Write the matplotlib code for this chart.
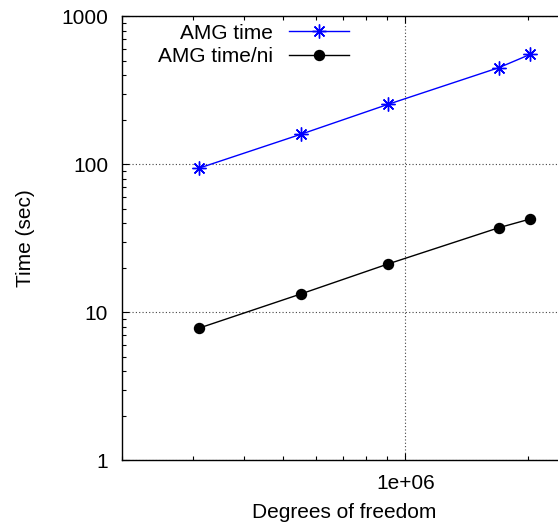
import matplotlib
matplotlib.use("Agg")
import matplotlib.pyplot as plt
from matplotlib.ticker import LogLocator, FuncFormatter, NullFormatter

dof = [3.09e5, 5.52e5, 9.05e5, 1.70e6, 2.03e6]
amg_time = [94, 159.5, 254, 450, 553]
amg_time_ni = [7.8, 13.3, 21.2, 37.3, 42.7]
series_labels = ["AMG time", "AMG time/ni"]
x_label = "Degrees of freedom"
y_label = "Time (sec)"

plt.rcParams['font.family'] = ['Liberation Sans', 'DejaVu Sans']

W, H = 558, 529
fig = plt.figure(figsize=(W / 100, H / 100), dpi=100)
left_px, right_px, top_px, bot_px = 122, 599, 16.3, 460.3
ax = fig.add_axes([left_px / W, 1 - bot_px / H, (right_px - left_px) / W, (bot_px - top_px) / H])

ax.plot(dof, amg_time, color='#0000ff', lw=1.0, marker=(8, 2, 0), markersize=10,
        markeredgewidth=1.0, label=series_labels[0])
ax.plot(dof, amg_time_ni, color='black', lw=1.0, marker='o', markersize=7.2,
        label=series_labels[1])

ax.set_xscale('log')
ax.set_yscale('log')
ax.set_xlim(2e5, 3e6)
ax.set_ylim(1, 1000)

ax.xaxis.set_major_locator(LogLocator(base=10))
ax.xaxis.set_minor_locator(LogLocator(base=10, subs=range(2, 10)))
ax.xaxis.set_major_formatter(FuncFormatter(lambda v, p: "%.0e" % v if v > 0 else ""))
ax.xaxis.set_minor_formatter(NullFormatter())
ax.yaxis.set_major_locator(LogLocator(base=10))
ax.yaxis.set_minor_locator(LogLocator(base=10, subs=range(2, 10)))
ax.yaxis.set_major_formatter(FuncFormatter(lambda v, p: "%g" % v))
ax.yaxis.set_minor_formatter(NullFormatter())

ax.tick_params(which='both', direction='in', top=True, right=True, labelsize=15, width=0.8)
ax.tick_params(which='major', length=5)
ax.tick_params(which='minor', length=3)
ax.tick_params(axis='x', which='major', pad=10)
ax.tick_params(axis='y', which='major', pad=10)

for s in ax.spines.values():
    s.set_linewidth(1.0)

ax.grid(True, which='major', linestyle=(0, (1, 2)), color='#444444', lw=0.8)

ax.set_xlabel(x_label, fontsize=15)
ax.set_ylabel(y_label, fontsize=15)
ax.xaxis.set_label_coords((344.5 - left_px) / (right_px - left_px), (bot_px - 503) / (bot_px - top_px))
ax.yaxis.set_label_coords((35 - left_px) / (right_px - left_px), 0.5)

leg = ax.legend(loc='center right', bbox_to_anchor=(349 / W, 1 - 45 / H),
                bbox_transform=fig.transFigure, frameon=False, markerfirst=False,
                fontsize=15, handlelength=2.9, handletextpad=0.75, labelspacing=0.22,
                borderpad=0, borderaxespad=0)

fig.savefig("out.png", dpi=100)
